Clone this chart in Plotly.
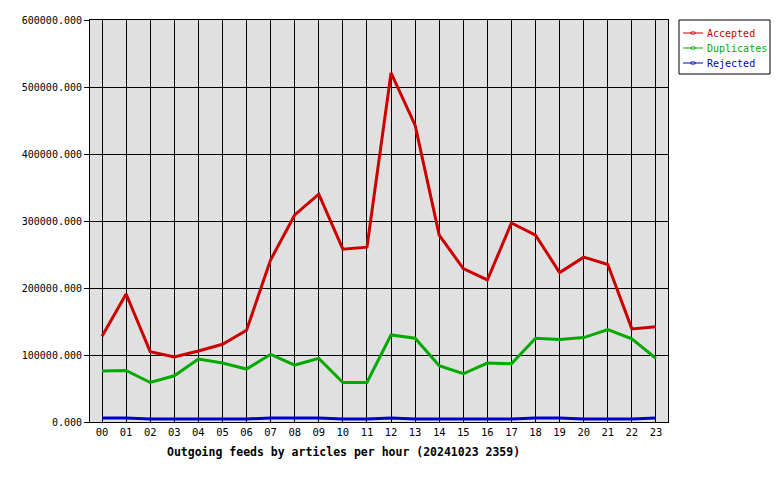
import plotly.graph_objects as go

hours = [f"{h:02d}" for h in range(24)]
accepted = [128000, 191000, 105000, 97000, 106000, 116000, 137000, 242000, 309000, 340000,
            258000, 261000, 521000, 443000, 279000, 229000, 212000, 297000, 279000, 223000,
            246000, 235000, 139000, 142000]
duplicates = [76000, 77000, 59000, 69000, 94000, 88000, 79000, 101000, 85000, 95000,
              59000, 59000, 130000, 125000, 84000, 72000, 88000, 87000, 125000, 123000,
              126000, 138000, 124000, 95000]
rejected = [6000, 6000, 4500, 4500, 4500, 4500, 4500, 6000, 6000, 6000,
            4500, 4500, 6000, 4500, 4500, 4500, 4500, 4500, 6000, 6000,
            4500, 4500, 4500, 6000]

series = [("Accepted", accepted, "#cc0000"),
          ("Duplicates", duplicates, "#00aa00"),
          ("Rejected", rejected, "#0000cc")]

FONT = "DejaVu Sans Mono"
L, R, T, B, W, H = 90, 112, 20, 58, 780, 480
PW, PH = W - L - R, H - T - B


def px(x):
    return (x - L) / PW


def py(y):
    return (H - B - y) / PH


fig = go.Figure()
for name, vals, col in series:
    fig.add_trace(go.Scatter(x=hours, y=vals, mode="lines", name=name,
                             line=dict(color=col, width=3)))

shapes = [dict(type="rect", xref="paper", yref="paper", x0=px(679), x1=px(770),
               y0=py(74), y1=py(20), line=dict(color="black", width=1),
               fillcolor="white")]
annotations = []
for i, (name, vals, col) in enumerate(series):
    yy = 33 + 15 * i
    shapes.append(dict(type="line", xref="paper", yref="paper", x0=px(683), x1=px(703),
                       y0=py(yy), y1=py(yy), line=dict(color=col, width=1)))
    shapes.append(dict(type="rect", xref="paper", yref="paper", x0=px(691), x1=px(695),
                       y0=py(yy + 1), y1=py(yy - 1), line=dict(color=col, width=1),
                       fillcolor="white"))
    annotations.append(dict(text=name, xref="paper", yref="paper", x=px(705), y=py(yy),
                            xanchor="left", yanchor="middle", showarrow=False,
                            font=dict(family=FONT, size=10, color=col)))

annotations.append(dict(text="<b>Outgoing feeds by articles per hour (20241023 2359)</b>",
                        xref="paper", yref="paper", x=px(343), y=py(452),
                        xanchor="center", yanchor="middle", showarrow=False,
                        font=dict(family=FONT, size=11.5)))

fig.update_layout(
    width=W, height=H,
    margin=dict(l=L, r=R, t=T, b=B),
    paper_bgcolor="white", plot_bgcolor="#e0e0e0",
    font=dict(family=FONT, size=10, color="black"),
    showlegend=False,
    shapes=shapes, annotations=annotations,
)

fig.update_xaxes(type="category", range=[-0.5, 23.5], showgrid=True, gridcolor="black",
                 gridwidth=1, showline=True, linecolor="black", linewidth=1, mirror=True,
                 ticks="", tickfont=dict(family=FONT, size=10.5), zeroline=False)
fig.update_yaxes(range=[0, 600000], dtick=100000, tickformat=".3f", showgrid=True,
                 gridcolor="black", gridwidth=1, showline=True, linecolor="black",
                 linewidth=1, mirror=True, ticks="outside", ticklen=5, tickcolor="black",
                 zeroline=False, tickfont=dict(family=FONT, size=10))

fig.write_html("out.html")
